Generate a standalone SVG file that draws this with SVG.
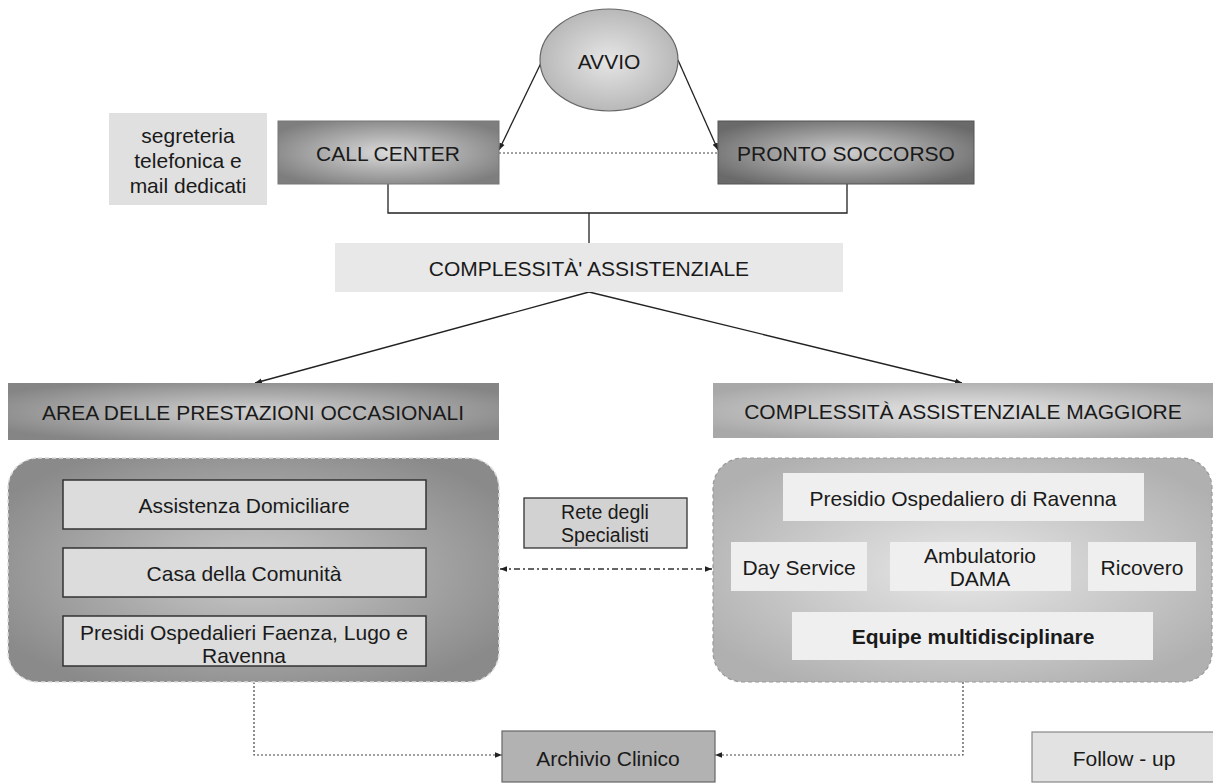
<svg xmlns="http://www.w3.org/2000/svg" width="1213" height="783" viewBox="0 0 1213 783">
<defs>
<style>
text{font-family:"Liberation Sans",Arial,sans-serif;font-size:21px;fill:#1a1a1a;text-anchor:middle;dominant-baseline:central}
.conn{fill:none;stroke:#222;stroke-width:1.3}
.dot{fill:none;stroke:#444;stroke-width:1.2;stroke-dasharray:2 2}
.dashdot{fill:none;stroke:#333;stroke-width:1.3;stroke-dasharray:6 3 2 3}
.inL{fill:#dcdcdc;stroke:#333;stroke-width:1.5}
.inR{fill:#efefef}
</style>
<radialGradient id="gBox" cx="0.5" cy="0.5" r="0.6">
<stop offset="0" stop-color="#dadada"/><stop offset="1" stop-color="#7e7e7e"/>
</radialGradient>
<radialGradient id="gBox2" cx="0.5" cy="0.5" r="0.6">
<stop offset="0" stop-color="#cfcfcf"/><stop offset="1" stop-color="#6a6a6a"/>
</radialGradient>
<radialGradient id="gArea" cx="0.5" cy="0.5" r="0.6">
<stop offset="0" stop-color="#d2d2d2"/><stop offset="1" stop-color="#858585"/>
</radialGradient>
<radialGradient id="gMag" cx="0.5" cy="0.5" r="0.6">
<stop offset="0" stop-color="#e6e6e6"/><stop offset="1" stop-color="#a8a8a8"/>
</radialGradient>
<radialGradient id="gContL" cx="0.5" cy="0.5" r="0.6">
<stop offset="0" stop-color="#cacaca"/><stop offset="1" stop-color="#8a8a8a"/>
</radialGradient>
<radialGradient id="gContR" cx="0.5" cy="0.5" r="0.6">
<stop offset="0" stop-color="#e8e8e8"/><stop offset="1" stop-color="#b0b0b0"/>
</radialGradient>
<radialGradient id="gEll" cx="0.5" cy="0.5" r="0.55">
<stop offset="0" stop-color="#e6e6e6"/><stop offset="1" stop-color="#b4b4b4"/>
</radialGradient>
<marker id="ar" viewBox="0 0 10 10" refX="10" refY="5" markerWidth="7" markerHeight="7" orient="auto-start-reverse" markerUnits="userSpaceOnUse">
<path d="M0,1 L10,5 L0,9 z" fill="#222"/>
</marker>
</defs>
<rect width="1213" height="783" fill="#ffffff"/>

<g id="connectors">
<line class="conn" x1="541" y1="63" x2="499" y2="150" marker-end="url(#ar)"/>
<line class="conn" x1="678" y1="60" x2="718" y2="150" marker-end="url(#ar)"/>
<line class="dot" x1="499" y1="153" x2="718" y2="153"/>
<polyline class="conn" points="388,184 388,213 847,213 847,184"/>
<line class="conn" x1="589" y1="213" x2="589" y2="243"/>
<line class="conn" x1="589" y1="292" x2="255" y2="383" marker-end="url(#ar)"/>
<line class="conn" x1="589" y1="292" x2="962" y2="383" marker-end="url(#ar)"/>
<line class="dashdot" x1="500" y1="569" x2="712" y2="569" marker-start="url(#ar)" marker-end="url(#ar)"/>
<polyline class="dot" points="254,682 254,755 502,755" marker-end="url(#ar)"/>
<polyline class="dot" points="963,682 963,755 715,755" marker-end="url(#ar)"/>
</g>

<g id="avvio">
<ellipse cx="609" cy="60" rx="69" ry="51" fill="url(#gEll)" stroke="#666" stroke-width="1.2"/>
<text x="609" y="61">AVVIO</text>
</g>

<g id="segreteria">
<rect x="109" y="113" width="158" height="92" fill="#e0e0e0"/>
<text x="188" y="135">segreteria</text>
<text x="188" y="160">telefonica e</text>
<text x="188" y="185">mail dedicati</text>
</g>

<g id="call-center">
<rect x="278" y="121" width="221" height="63" fill="url(#gBox)" stroke="#777" stroke-width="1"/>
<text x="388" y="153">CALL CENTER</text>
</g>

<g id="pronto-soccorso">
<rect x="718" y="121" width="256" height="63" fill="url(#gBox2)" stroke="#555" stroke-width="1"/>
<text x="846" y="153">PRONTO SOCCORSO</text>
</g>

<g id="complessita">
<rect x="335" y="243" width="508" height="49" fill="#e8e8e8"/>
<text x="589" y="268">COMPLESSITÀ' ASSISTENZIALE</text>
</g>

<g id="area-occasionali">
<rect x="8" y="383" width="491" height="57" fill="url(#gArea)"/>
<text x="253" y="412">AREA DELLE PRESTAZIONI OCCASIONALI</text>
</g>

<g id="complessita-maggiore">
<rect x="713" y="383" width="500" height="55" fill="url(#gMag)"/>
<text x="963" y="411">COMPLESSITÀ ASSISTENZIALE MAGGIORE</text>
</g>

<g id="container-left">
<rect x="8" y="458" width="491" height="224" rx="30" fill="url(#gContL)" stroke="#dddddd" stroke-width="1.5" stroke-dasharray="4 3"/>
</g>
<g id="assistenza-domiciliare">
<rect class="inL" x="63" y="480" width="363" height="49"/>
<text x="244" y="505">Assistenza Domiciliare</text>
</g>
<g id="casa-comunita">
<rect class="inL" x="63" y="548" width="363" height="49"/>
<text x="244" y="573">Casa della Comunità</text>
</g>
<g id="presidi-ospedalieri">
<rect class="inL" x="63" y="616" width="363" height="50"/>
<text x="244" y="632">Presidi Ospedalieri Faenza, Lugo e</text>
<text x="244" y="655">Ravenna</text>
</g>

<g id="container-right">
<rect x="713" y="458" width="499" height="224" rx="30" fill="url(#gContR)" stroke="#999" stroke-width="1.2" stroke-dasharray="4 3"/>
</g>
<g id="presidio-ravenna">
<rect class="inR" x="783" y="473" width="361" height="48"/>
<text x="963" y="498">Presidio Ospedaliero di Ravenna</text>
</g>
<g id="day-service">
<rect class="inR" x="731" y="542" width="136" height="49"/>
<text x="799" y="567">Day Service</text>
</g>
<g id="ambulatorio-dama">
<rect class="inR" x="890" y="542" width="181" height="49"/>
<text x="980" y="555">Ambulatorio</text>
<text x="980" y="578">DAMA</text>
</g>
<g id="ricovero">
<rect class="inR" x="1088" y="542" width="108" height="49"/>
<text x="1142" y="567">Ricovero</text>
</g>
<g id="equipe">
<rect class="inR" x="792" y="612" width="361" height="48"/>
<text x="973" y="636" font-weight="bold">Equipe multidisciplinare</text>
</g>

<g id="rete-specialisti">
<rect x="524" y="498" width="163" height="50" fill="#d2d2d2" stroke="#333" stroke-width="1.3"/>
<text x="605" y="512" style="font-size:19.5px">Rete degli</text>
<text x="605" y="535" style="font-size:19.5px">Specialisti</text>
</g>

<g id="archivio-clinico">
<rect x="502" y="731" width="213" height="51" fill="#b2b2b2" stroke="#666" stroke-width="1.2"/>
<text x="608" y="758">Archivio Clinico</text>
</g>

<g id="follow-up">
<rect x="1032" y="732" width="185" height="50" fill="#e2e2e2" stroke="#888" stroke-width="1.2"/>
<text x="1124" y="758">Follow - up</text>
</g>
</svg>
